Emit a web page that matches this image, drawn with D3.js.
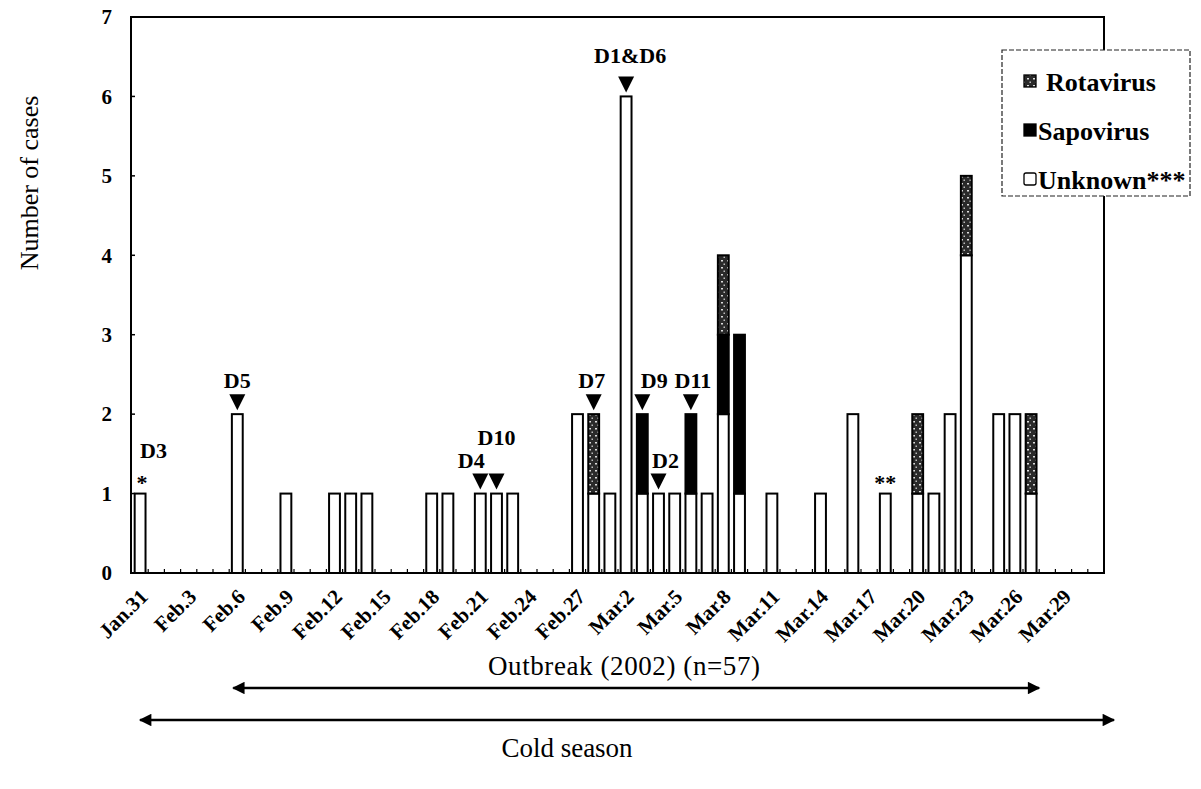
<!DOCTYPE html>
<html>
<head>
<meta charset="utf-8">
<script src="https://cdn.jsdelivr.net/npm/d3@7"></script>
<style>
  html, body { margin: 0; padding: 0; background: #fff; }
  svg { display: block; font-family: "Liberation Serif", "Times New Roman", serif; }
</style>
</head>
<body>
<svg id="chart" width="1201" height="789"></svg>
<script>
// ---------------- DATA ----------------
const categories = [
  "Jan.31",
  "Feb.1","Feb.2","Feb.3","Feb.4","Feb.5","Feb.6","Feb.7","Feb.8","Feb.9","Feb.10",
  "Feb.11","Feb.12","Feb.13","Feb.14","Feb.15","Feb.16","Feb.17","Feb.18","Feb.19","Feb.20",
  "Feb.21","Feb.22","Feb.23","Feb.24","Feb.25","Feb.26","Feb.27","Feb.28",
  "Mar.1","Mar.2","Mar.3","Mar.4","Mar.5","Mar.6","Mar.7","Mar.8","Mar.9","Mar.10",
  "Mar.11","Mar.12","Mar.13","Mar.14","Mar.15","Mar.16","Mar.17","Mar.18","Mar.19","Mar.20",
  "Mar.21","Mar.22","Mar.23","Mar.24","Mar.25","Mar.26","Mar.27","Mar.28","Mar.29","Mar.30","Mar.31"
];
const tickLabels = ["Jan.31","Feb.3","Feb.6","Feb.9","Feb.12","Feb.15","Feb.18","Feb.21","Feb.24","Feb.27",
  "Mar.2","Mar.5","Mar.8","Mar.11","Mar.14","Mar.17","Mar.20","Mar.23","Mar.26","Mar.29"];
const yTicks = [0,1,2,3,4,5,6,7];

const caseDates = ["Jan.31","Feb.6","Feb.9","Feb.12","Feb.13","Feb.14","Feb.18","Feb.19","Feb.21","Feb.22",
  "Feb.23","Feb.27","Feb.28","Mar.1","Mar.2","Mar.3","Mar.4","Mar.5","Mar.6","Mar.7",
  "Mar.8","Mar.9","Mar.11","Mar.14","Mar.16","Mar.18","Mar.20","Mar.21","Mar.22","Mar.23",
  "Mar.25","Mar.26","Mar.27"];
const unknown   = [1,2,1,1,1,1,1,1,1,1, 1,2,1,1,6,1,1,1,1,1, 2,1,1,1,2,1,1,1,2,4, 2,2,1];
const sapovirus = [0,0,0,0,0,0,0,0,0,0, 0,0,0,0,0,1,0,0,1,0, 1,2,0,0,0,0,0,0,0,0, 0,0,0];
const rotavirus = [0,0,0,0,0,0,0,0,0,0, 0,0,1,0,0,0,0,0,0,0, 1,0,0,0,0,0,1,0,0,1, 0,0,1];

const seriesNames = ["Unknown***","Sapovirus","Rotavirus"];
const legendOrder = ["Rotavirus","Sapovirus","Unknown***"];

const markerDates  = ["Feb.6","Feb.21","Feb.22","Feb.28","Mar.2","Mar.3","Mar.4","Mar.6"];
const markerLabels = ["D5","D4","D10","D7","D1&D6","D9","D2","D11"];
const noteDates  = ["Jan.31","Mar.18"];
const noteLabels = ["*","**"];
const plainLabelDates = ["Jan.31"];
const plainLabels = ["D3"];

const outbreakSpan = ["Feb.6","Mar.27"];
const coldSpan = ["Jan.31","Mar.31"];
const outbreakText = "Outbreak (2002) (n=57)";
const coldText = "Cold season";
const yTitle = "Number of cases";

// ---------------- LAYOUT ----------------
const svg = d3.select("#chart");
const L = 131, R = 1104, T = 17, B = 573;

const x = d3.scaleBand().domain(categories).range([L + 1, R]).paddingInner(0.33).paddingOuter(0.165);
const y = d3.scaleLinear().domain([0, 7]).range([B, T]);
const cx = d => x(d) + x.bandwidth() / 2;

// pattern for rotavirus
const defs = svg.append("defs");
const pat = defs.append("pattern").attr("id", "rota").attr("patternUnits", "userSpaceOnUse")
  .attr("width", 6).attr("height", 7);
pat.append("rect").attr("width", 6).attr("height", 7).attr("fill", "#2a2a2a");
pat.append("rect").attr("x", 1).attr("y", 1).attr("width", 2).attr("height", 1.5).attr("fill", "#ddd");
pat.append("rect").attr("x", 3.5).attr("y", 4.5).attr("width", 1.5).attr("height", 1.5).attr("fill", "#bbb");

const arrow = defs.append("marker").attr("id", "ah").attr("viewBox", "0 0 10 10")
  .attr("refX", 9).attr("refY", 5).attr("markerWidth", 5.5).attr("markerHeight", 5)
  .attr("orient", "auto-start-reverse").attr("markerUnits", "strokeWidth");
arrow.append("path").attr("d", "M0,0 L10,5 L0,10 Z").attr("fill", "#000");

const fills = {"Unknown***": "#fff", "Sapovirus": "#000", "Rotavirus": "url(#rota)"};

// frame
svg.append("rect").attr("x", L).attr("y", T).attr("width", R - L).attr("height", B - T)
  .attr("fill", "none").attr("stroke", "#000").attr("stroke-width", 2);

// y ticks (inward)
svg.append("g").selectAll("line").data(yTicks).join("line")
  .attr("x1", L).attr("x2", L + 4).attr("y1", d => y(d)).attr("y2", d => y(d))
  .attr("stroke", "#000").attr("stroke-width", 1.5);
svg.append("g").selectAll("text").data(yTicks).join("text")
  .attr("x", 112).attr("y", d => y(d)).attr("dy", "0.35em")
  .attr("text-anchor", "end").attr("font-size", 21).attr("font-weight", "bold").text(d => d);

// x minor ticks at day boundaries
svg.append("g").selectAll("line").data(categories.slice(1)).join("line")
  .attr("x1", d => x(d) - x.step() * x.paddingInner() / 2)
  .attr("x2", d => x(d) - x.step() * x.paddingInner() / 2)
  .attr("y1", B).attr("y2", B - 4).attr("stroke", "#000").attr("stroke-width", 1.2);

// x tick labels
svg.append("g").selectAll("text").data(tickLabels).join("text")
  .attr("transform", d => `translate(${cx(d) + 9},598) rotate(-45)`)
  .attr("text-anchor", "end").attr("font-size", 21).attr("font-weight", "bold").text(d => d);

// stacked bars
const rows = caseDates.map((d, i) => ({date: d, "Unknown***": unknown[i], "Sapovirus": sapovirus[i], "Rotavirus": rotavirus[i]}));
const stack = d3.stack().keys(seriesNames)(rows);
svg.append("g").selectAll("g").data(stack).join("g")
  .attr("fill", s => fills[s.key])
  .selectAll("rect").data(s => s.filter(p => p[1] > p[0])).join("rect")
  .attr("x", p => x(p.data.date)).attr("width", x.bandwidth())
  .attr("y", p => y(p[1])).attr("height", p => y(p[0]) - y(p[1]))
  .attr("stroke", "#000").attr("stroke-width", 2);

// bottom axis line redraw
svg.append("line").attr("x1", L).attr("x2", R).attr("y1", B).attr("y2", B).attr("stroke", "#000").attr("stroke-width", 2);

const totalOf = d => { const i = caseDates.indexOf(d); return unknown[i] + sapovirus[i] + rotavirus[i]; };

// triangle markers
const labelShift = {"D4": [-9, 0], "D10": [0, -23], "D9": [12, 0], "D2": [7, 0], "D1&D6": [4, -7], "D7": [-2, 0], "D11": [2, 0], "D5": [0, 0]};
const mg = svg.append("g");
markerDates.forEach((d, i) => {
  const xc = cx(d), top = y(totalOf(d));
  mg.append("path").attr("d", `M${xc - 8},${top - 20} L${xc + 8},${top - 20} L${xc},${top - 4} Z`).attr("fill", "#000");
  const s = labelShift[markerLabels[i]];
  mg.append("text").attr("x", xc + s[0]).attr("y", top - 26 + s[1]).attr("text-anchor", "middle")
    .attr("font-size", 22).attr("font-weight", "bold").text(markerLabels[i]);
});
noteDates.forEach((d, i) => {
  mg.append("text").attr("x", cx(d) + (i === 0 ? 2 : 0)).attr("y", y(totalOf(d)) - 4).attr("text-anchor", "middle")
    .attr("font-size", 22).attr("font-weight", "bold").text(noteLabels[i]);
});
plainLabelDates.forEach((d, i) => {
  mg.append("text").attr("x", cx(d)).attr("y", y(totalOf(d)) - 36).attr("text-anchor", "start")
    .attr("font-size", 22).attr("font-weight", "bold").text(plainLabels[i]);
});

// legend
const lg = svg.append("g");
lg.append("rect").attr("x", 1002).attr("y", 50).attr("width", 188).attr("height", 146)
  .attr("fill", "#fff").attr("stroke", "#222").attr("stroke-width", 1.2).attr("stroke-dasharray", "5,2");
legendOrder.forEach((k, i) => {
  const yy = 82 + i * 49;
  lg.append("rect").attr("x", 1024).attr("y", yy - 7).attr("width", 12).attr("height", 12)
    .attr("fill", fills[k]).attr("stroke", "#000").attr("stroke-width", 1.3).attr("rx", k === "Unknown***" ? 2 : 0);
  lg.append("text").attr("x", k === "Rotavirus" ? 1046 : 1038).attr("y", yy).attr("dy", "0.35em").attr("font-size", 26)
    .attr("font-weight", "bold").text(k);
});

// y title
svg.append("text").attr("transform", "translate(38,183) rotate(-90)").attr("text-anchor", "middle")
  .attr("font-size", 26).text(yTitle);

// outbreak & cold season arrows
svg.append("line").attr("x1", cx(outbreakSpan[0]) - 4).attr("x2", cx(outbreakSpan[1]) + 8)
  .attr("y1", 688).attr("y2", 688).attr("stroke", "#000").attr("stroke-width", 2.5)
  .attr("marker-start", "url(#ah)").attr("marker-end", "url(#ah)");
svg.append("text").attr("x", 624).attr("y", 675).attr("text-anchor", "middle").attr("font-size", 27)
  .attr("textLength", 272).attr("lengthAdjust", "spacing").text(outbreakText);

svg.append("line").attr("x1", cx(coldSpan[0])).attr("x2", cx(coldSpan[1]) + 18)
  .attr("y1", 720).attr("y2", 720).attr("stroke", "#000").attr("stroke-width", 2.5)
  .attr("marker-start", "url(#ah)").attr("marker-end", "url(#ah)");
svg.append("text").attr("x", 567).attr("y", 757).attr("text-anchor", "middle").attr("font-size", 27).text(coldText);
</script>
</body>
</html>
